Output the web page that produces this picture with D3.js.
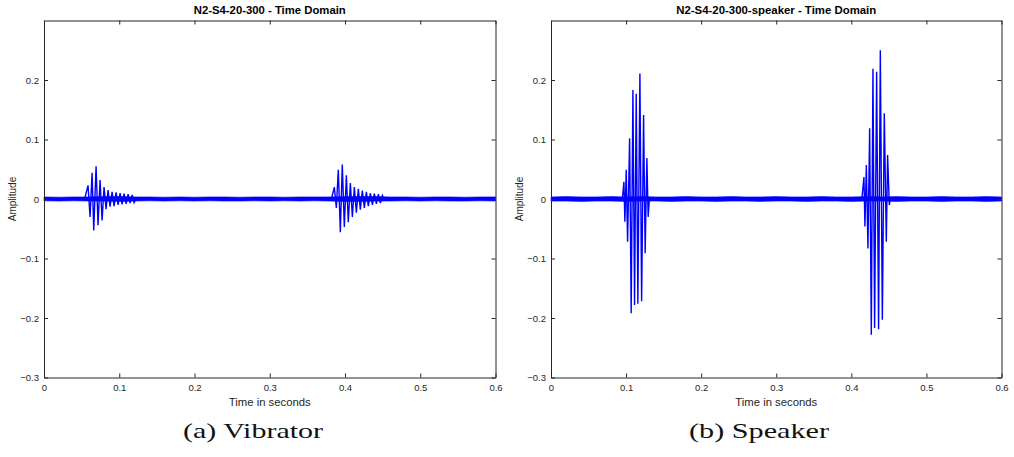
<!DOCTYPE html>
<html>
<head>
<meta charset="utf-8">
<script src="https://cdn.jsdelivr.net/npm/d3@7"></script>
<style>
  body { margin: 0; background: #fff; }
  svg { display: block; }
  .tick text { font-family: "Liberation Sans", Arial, sans-serif; font-size: 9.5px; fill: #262626; }
  .ax-title { font-family: "Liberation Sans", Arial, sans-serif; font-size: 10px; font-weight: bold; fill: #000; }
  .ax-label { font-family: "Liberation Sans", Arial, sans-serif; font-size: 10px; fill: #262626; }
  .caption { font-family: "Liberation Serif", serif; font-size: 21px; fill: #111; }
</style>
</head>
<body>
<svg id="fig" width="1014" height="457"></svg>
<script>
const xTicks = [0, 0.1, 0.2, 0.3, 0.4, 0.5, 0.6]
const yTicks = [-0.3, -0.2, -0.1, 0, 0.1, 0.2]

// noise floor envelope (upper / lower), sampled every 0.02 s
const noiseTime = [0, 0.02, 0.04, 0.06, 0.08, 0.1, 0.12, 0.14, 0.16, 0.18, 0.2, 0.22, 0.24, 0.26, 0.28, 0.3,
  0.32, 0.34, 0.36, 0.38, 0.4, 0.42, 0.44, 0.46, 0.48, 0.5, 0.52, 0.54, 0.56, 0.58, 0.6]
const vibNoiseHi = [0.0035, 0.003, 0.0035, 0.0035, 0.004, 0.004, 0.0035, 0.0035, 0.003, 0.0035, 0.003, 0.0035, 0.0035, 0.003, 0.0035, 0.0035,
  0.003, 0.0035, 0.0035, 0.0035, 0.004, 0.004, 0.004, 0.0035, 0.0035, 0.003, 0.0035, 0.0035, 0.003, 0.0035, 0.0035]
const vibNoiseLo = [-0.003, -0.0035, -0.003, -0.0035, -0.0035, -0.004, -0.0035, -0.003, -0.0035, -0.003, -0.0035, -0.003, -0.0035, -0.0035, -0.003, -0.0035,
  -0.003, -0.0035, -0.003, -0.0035, -0.004, -0.004, -0.0035, -0.0035, -0.003, -0.0035, -0.003, -0.0035, -0.0035, -0.003, -0.0035]
const spkNoiseHi = [0.0035, 0.004, 0.0035, 0.0035, 0.004, 0.0035, 0.004, 0.0035, 0.0035, 0.004, 0.0035, 0.0035, 0.004, 0.0035, 0.0035, 0.004,
  0.0035, 0.0035, 0.004, 0.0035, 0.0035, 0.004, 0.0035, 0.004, 0.0035, 0.0035, 0.004, 0.0035, 0.0035, 0.004, 0.0035]
const spkNoiseLo = [-0.0035, -0.0035, -0.004, -0.0035, -0.0035, -0.004, -0.0035, -0.0035, -0.004, -0.0035, -0.0035, -0.004, -0.0035, -0.0035, -0.004, -0.0035,
  -0.0035, -0.004, -0.0035, -0.0035, -0.004, -0.0035, -0.0035, -0.004, -0.0035, -0.0035, -0.004, -0.0035, -0.0035, -0.004, -0.0035]

// burst peaks
const vibTime1 = [0.054, 0.0585, 0.0612, 0.0639, 0.0661, 0.0692, 0.0718, 0.0745, 0.0772, 0.0798, 0.0825, 0.0851, 0.0878,
  0.0905, 0.0931, 0.0958, 0.0985, 0.1011, 0.1038, 0.1064, 0.1091, 0.1118, 0.1144, 0.1171, 0.1198, 0.122]
const vibAmp1 = [0, 0.023, -0.03, 0.044, -0.053, 0.055, -0.044, 0.032, -0.036, 0.02, -0.017, 0.015, -0.013,
  0.012, -0.012, 0.011, -0.01, 0.01, -0.009, 0.009, -0.008, 0.008, -0.007, 0.007, -0.006, 0]
const vibTime2 = [0.382, 0.3858, 0.3885, 0.3911, 0.3938, 0.3964, 0.3991, 0.4018, 0.4044, 0.4071, 0.4098, 0.4124, 0.4151,
  0.4177, 0.4204, 0.423, 0.4257, 0.4284, 0.431, 0.4337, 0.4364, 0.439, 0.4417, 0.4443, 0.447, 0.4497, 0.452]
const vibAmp2 = [0, 0.02, -0.015, 0.049, -0.056, 0.058, -0.047, 0.04, -0.039, 0.027, -0.03, 0.02, -0.023,
  0.017, -0.018, 0.014, -0.015, 0.012, -0.012, 0.01, -0.01, 0.009, -0.008, 0.008, -0.007, 0.006, 0]
const spkTime1 = [0.095, 0.0971, 0.0984, 0.1002, 0.102, 0.1047, 0.1068, 0.1091, 0.1113, 0.1135, 0.1157, 0.1184, 0.1207,
  0.1233, 0.1254, 0.1277, 0.1294, 0.131]
const spkAmp1 = [0, 0.029, -0.038, 0.049, -0.072, 0.102, -0.192, 0.183, -0.178, 0.177, -0.176, 0.211, -0.172,
  0.141, -0.091, 0.069, -0.03, 0]
const spkTime2 = [0.414, 0.4168, 0.4181, 0.42, 0.4221, 0.4244, 0.4266, 0.4288, 0.431, 0.4337, 0.4363, 0.4386, 0.4413,
  0.4439, 0.4466, 0.4483, 0.4506, 0.452]
const spkAmp2 = [0, 0.037, -0.046, 0.057, -0.083, 0.119, -0.228, 0.219, -0.217, 0.214, -0.219, 0.25, -0.203,
  0.144, -0.072, 0.074, -0.01, 0]

const panels = [
  { title: 'N2-S4-20-300 - Time Domain', titleW: 152, caption: '(a) Vibrator', left: 44, right: 495.5, capX: 253,
    hi: vibNoiseHi, lo: vibNoiseLo, bursts: [[vibTime1, vibAmp1], [vibTime2, vibAmp2]] },
  { title: 'N2-S4-20-300-speaker - Time Domain', titleW: 200, caption: '(b) Speaker', left: 551, right: 1001.5, capX: 759,
    hi: spkNoiseHi, lo: spkNoiseLo, bursts: [[spkTime1, spkAmp1], [spkTime2, spkAmp2]] }
]

const plotTop = 20.5, plotBottom = 377.5
const svg = d3.select('#fig')

panels.map(p => {

  const x = d3.scaleLinear().domain([0, 0.6]).range([p.left, p.right])
  const y = d3.scaleLinear().domain([-0.3, 0.3]).range([plotBottom, plotTop])

  const g = svg.append('g')

  // noise floor
  g.append('path')
  .datum(noiseTime)
  .attr('d', d3.area().x(d => x(d)).y0((d, i) => y(p.lo[i])).y1((d, i) => y(p.hi[i])))
  .attr('fill', '#0000ff')
  .attr('stroke', '#0000ff')
  .attr('stroke-width', 0.6)

  p.bursts.map(b => {
    g.append('path')
    .datum(b[0].map((t, i) => [t, b[1][i]]))
    .attr('d', d3.line().x(d => x(d[0])).y(d => y(d[1])))
    .attr('fill', 'none')
    .attr('stroke', '#0000ff')
    .attr('stroke-width', 1.4)
    .attr('stroke-linejoin', 'miter')
  })

  // axes, box style with inward ticks
  const fmt = d => d === 0 ? '0' : d3.format('.1f')(d)

  g.append('g')
  .attr('transform', `translate(0,${plotBottom})`)
  .call(d3.axisBottom(x).tickValues(xTicks).tickFormat(fmt).tickSizeInner(-4).tickSizeOuter(0).tickPadding(7))

  g.append('g')
  .attr('transform', `translate(0,${plotTop})`)
  .call(d3.axisTop(x).tickValues(xTicks).tickFormat('').tickSizeInner(-4).tickSizeOuter(0))

  g.append('g')
  .attr('transform', `translate(${p.left},0)`)
  .call(d3.axisLeft(y).tickValues(yTicks).tickFormat(fmt).tickSizeInner(-4).tickSizeOuter(0).tickPadding(5))

  g.append('g')
  .attr('transform', `translate(${p.right},0)`)
  .call(d3.axisRight(y).tickValues(yTicks).tickFormat('').tickSizeInner(-4).tickSizeOuter(0))

  g.selectAll('.domain').attr('stroke', '#262626')
  g.selectAll('.tick line').attr('stroke', '#262626')

  g.append('text')
  .attr('class', 'ax-title')
  .attr('x', (p.left + p.right) / 2 - p.titleW / 2)
  .attr('y', 14)
  .attr('textLength', p.titleW)
  .attr('lengthAdjust', 'spacingAndGlyphs')
  .text(p.title)

  g.append('text')
  .attr('class', 'ax-label')
  .attr('x', (p.left + p.right) / 2 - 41)
  .attr('y', 406)
  .attr('textLength', 82)
  .attr('lengthAdjust', 'spacingAndGlyphs')
  .text('Time in seconds')

  g.append('text')
  .attr('class', 'ax-label')
  .attr('transform', `translate(${p.left - 28},${y(0)}) rotate(-90)`)
  .attr('text-anchor', 'middle')
  .text('Amplitude')

  g.append('text')
  .attr('class', 'caption')
  .attr('x', p.capX - 70)
  .attr('y', 438)
  .attr('textLength', 140)
  .attr('lengthAdjust', 'spacingAndGlyphs')
  .text(p.caption)
})
</script>
</body>
</html>
